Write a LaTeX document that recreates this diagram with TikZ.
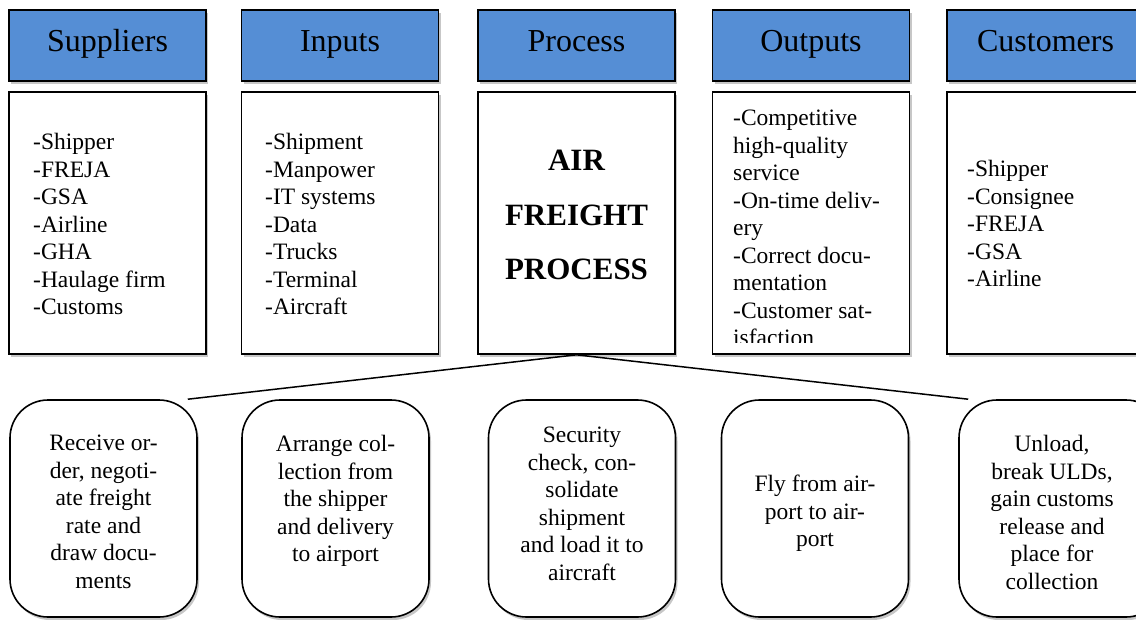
\documentclass[tikz,border=0pt]{standalone}
\usepackage{fontspec}
\setmainfont{Liberation Serif}
\usetikzlibrary{shadows,calc}
\definecolor{hdrblue}{HTML}{558ED5}
\begin{document}
\begin{tikzpicture}[x=1pt,y=-1pt,
  boxshadow/.style={drop shadow={shadow xshift=2pt,shadow yshift=-3pt,fill=black,opacity=0.22}},
  hdr/.style={draw=black,line width=1.6pt,fill=hdrblue,minimum width=197pt,minimum height=71.5pt,inner sep=0pt,text height=22pt,text depth=10pt,boxshadow,font=\fontsize{32}{38}\selectfont},
  cbox/.style={draw=black,line width=1.6pt,fill=white,minimum width=197pt,minimum height=262pt,inner sep=0pt,boxshadow},
  rbox/.style={draw=black,line width=1.6pt,fill=white,rounded corners=38pt,minimum width=187pt,minimum height=217pt,inner sep=0pt,boxshadow},
  listtext/.style={anchor=north west,inner sep=0pt,align=left,font=\fontsize{23.5}{27.5}\selectfont},
  ctext/.style={anchor=north,inner sep=0pt,align=center,font=\fontsize{23.5}{27.5}\selectfont},
  bigtext/.style={anchor=north,inner sep=0pt,align=center,font=\fontsize{31}{54.5}\selectfont\bfseries},
  link/.style={draw=black,line width=1.5pt}]
\useasboundingbox (0,0) rectangle (1136,619);
\clip (0,0) rectangle (1136,619);

% headers
\node[hdr] (h1) at (107.5,45.5) {Suppliers};
\node[hdr] (h2) at (340,45.5) {Inputs};
\node[hdr] (h3) at (576.5,45.5) {Process};
\node[hdr] (h4) at (811,45.5) {Outputs};
\node[hdr] (h5) at (1045.5,45.5) {Customers};

% content boxes
\node[cbox] (c1) at (107.5,223) {};
\node[cbox] (c2) at (340,223) {};
\node[cbox] (c3) at (576.5,223) {};
\node[cbox] (c4) at (811,223) {};
\node[cbox] (c5) at (1045.5,223) {};

\node[listtext] (t1) at (33,133) {-Shipper\\-FREJA\\-GSA\\-Airline\\-GHA\\-Haulage firm\\-Customs};
\node[listtext] (t2) at (265,133) {-Shipment\\-Manpower\\-IT systems\\-Data\\-Trucks\\-Terminal\\-Aircraft};
\node[bigtext] (t3) at (576.5,150) {AIR\\FREIGHT\\PROCESS};
\begin{scope}
\clip (713,92) rectangle (909,342);
\node[listtext] (t4) at (733,110) {-Competitive\\high-quality\\service\\-On-time deliv-\\ery\\-Correct docu-\\mentation\\-Customer sat-\\isfaction};
\end{scope}
\node[listtext] (t5) at (967,160) {-Shipper\\-Consignee\\-FREJA\\-GSA\\-Airline};

% process steps
\node[rbox] (b1) at (103.5,508.5) {};
\node[rbox] (b2) at (335.5,508.5) {};
\node[rbox] (b3) at (582,508.5) {};
\node[rbox] (b4) at (815,508.5) {};
\node[rbox,minimum width=205pt] (b5) at (1061.5,508.5) {};

\node[ctext] (s1) at (103.5,435) {Receive or-\\der, negoti-\\ate freight\\rate and\\draw docu-\\ments};
\node[ctext] (s2) at (335.5,435) {Arrange col-\\lection from\\the shipper\\and delivery\\to airport};
\node[ctext] (s3) at (582,427) {Security\\check, con-\\solidate\\shipment\\and load it to\\aircraft};
\node[ctext] (s4) at (815,475) {Fly from air-\\port to air-\\port};
\node[ctext] (s5) at (1052,435) {Unload,\\break ULDs,\\gain customs\\release and\\place for\\collection};

% connectors
\coordinate (e1) at ($(b1.north east)+(-10,0)$);
\coordinate (e5) at ($(b5.north west)+(10,0)$);
\draw[link] (c3.south) -- (e1);
\draw[link] (c3.south) -- (e5);
\end{tikzpicture}
\end{document}
